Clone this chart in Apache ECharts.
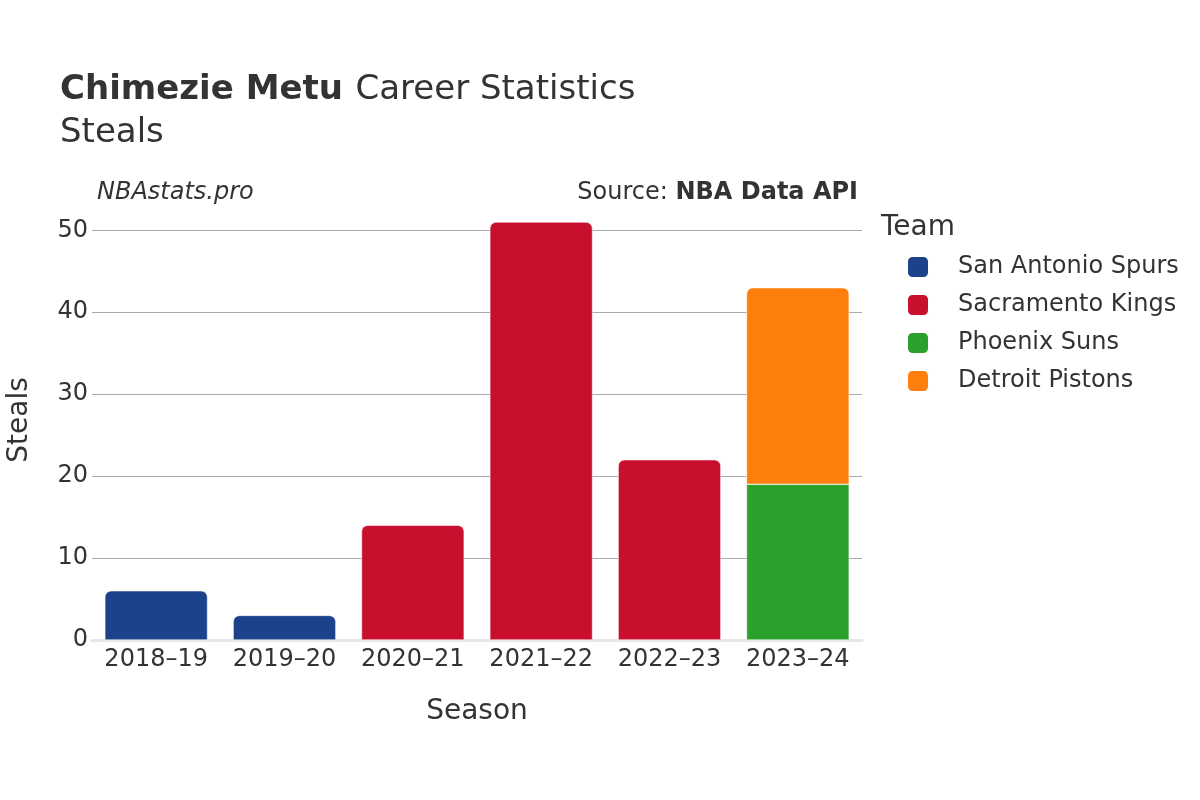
<!DOCTYPE html>
<html>
<head>
<meta charset="utf-8">
<script src="https://cdn.jsdelivr.net/npm/echarts@6/dist/echarts.min.js"></script>
<style>
  html, body { margin: 0; padding: 0; background: #fff; }
  #chart { width: 1200px; height: 800px; }
</style>
</head>
<body>
<div id="chart"></div>
<script>
// season labels and per-team steals
var seasons = ['2018–19', '2019–20', '2020–21', '2021–22', '2022–23', '2023–24']
var teams = ['San Antonio Spurs', 'Sacramento Kings', 'Phoenix Suns', 'Detroit Pistons']
var spurs = [6, 3, null, null, null, null]
var kings = [null, null, 14, 51, 22, null]
var suns = [null, null, null, null, null, 19]
var pistons = [null, null, null, null, null, 24]
var teamColors = ['#1b428a', '#c8102e', '#2ca02c', '#ff7f0e']
var yTicks = [0, 10, 20, 30, 40, 50]

var font = 'DejaVu Sans'

function barSeries(name, data, color, rounded) {
  return {
    name: name,
    type: 'bar',
    stack: 'total',
    data: data,
    barWidth: '80%',
    itemStyle: {
      color: color,
      borderColor: '#fff',
      borderWidth: 0.5,
      borderRadius: rounded ? [6, 6, 0, 0] : 0
    }
  }
}

var option = {
  animation: false,
  textStyle: { fontFamily: font },
  title: [
    {
      text: '{b|Chimezie Metu}  {n|Career Statistics}\n{n|Steals}',
      left: 60,
      top: 69,
      padding: 0,
      textStyle: {
        rich: {
          b: { fontFamily: font, fontSize: 34, fontWeight: 'bold', color: '#333', lineHeight: 43 },
          n: { fontFamily: font, fontSize: 34, fontWeight: 'normal', color: '#333', lineHeight: 43 }
        }
      }
    },
    {
      text: 'NBAstats.pro',
      left: 97,
      top: 181,
      padding: 0,
      textStyle: { fontFamily: font, fontSize: 24, fontStyle: 'italic', fontWeight: 'normal', color: '#333' }
    },
    {
      text: 'Source: {b|NBA Data API}',
      right: 342,
      top: 181,
      padding: 0,
      textStyle: {
        fontFamily: font, fontSize: 24, fontWeight: 'normal', color: '#333',
        rich: {
          b: { fontFamily: font, fontSize: 24, fontWeight: 'bold', color: '#333' }
        }
      }
    },
    {
      text: 'Team',
      left: 881,
      top: 214,
      padding: 0,
      textStyle: { fontFamily: font, fontSize: 28, fontWeight: 'normal', color: '#333' }
    }
  ],
  legend: {
    orient: 'vertical',
    left: 906,
    top: 255,
    padding: 0,
    itemWidth: 22,
    itemHeight: 22,
    itemGap: 14,
    icon: 'roundRect',
    data: teams,
    textStyle: { fontFamily: font, fontSize: 24, color: '#333', padding: [0, 0, 0, 24] }
  },
  grid: {
    left: 92,
    right: 338,
    top: 200,
    bottom: 160,
    outerBoundsMode: 'none'
  },
  xAxis: {
    type: 'category',
    data: seasons,
    name: 'Season',
    nameLocation: 'middle',
    nameGap: 58,
    nameTextStyle: { fontFamily: font, fontSize: 28, color: '#333' },
    axisLine: { show: true, lineStyle: { color: '#e6e6e6', width: 3 } },
    axisTick: { show: false },
    axisLabel: { interval: 0, fontFamily: font, fontSize: 24, color: '#333', margin: 8 }
  },
  yAxis: {
    type: 'value',
    min: 0,
    max: 53.7,
    interval: 10,
    name: 'Steals',
    nameLocation: 'middle',
    nameGap: 58,
    nameTextStyle: { fontFamily: font, fontSize: 28, color: '#333' },
    axisLine: { show: false },
    axisTick: { show: false },
    axisLabel: {
      fontFamily: font, fontSize: 24, color: '#333', margin: 4,
      showMaxLabel: false,
      formatter: function (v) { return yTicks.indexOf(v) >= 0 ? String(v) : '' }
    },
    splitLine: { show: true, showMinLine: false, showMaxLine: false, lineStyle: { color: '#aaaaaa', width: 1 } }
  },
  series: [
    barSeries(teams[0], spurs, teamColors[0], true),
    barSeries(teams[1], kings, teamColors[1], true),
    barSeries(teams[2], suns, teamColors[2], false),
    barSeries(teams[3], pistons, teamColors[3], true)
  ]
}

var myChart = echarts.init(document.getElementById('chart'))
myChart.setOption(option)
</script>
</body>
</html>
